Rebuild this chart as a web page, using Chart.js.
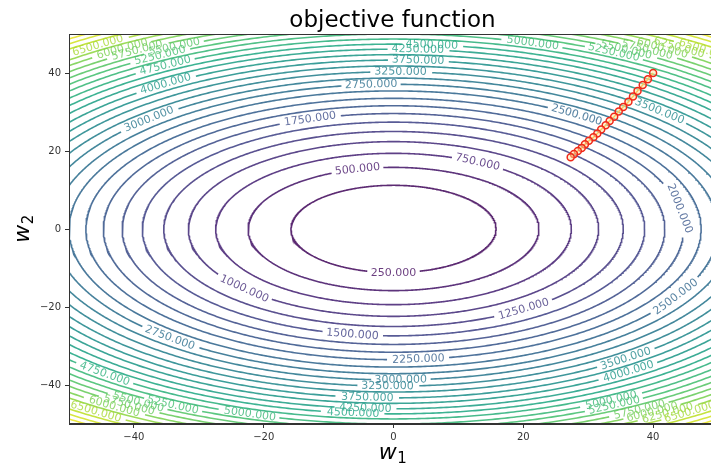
<!DOCTYPE html>
<html>
<head>
<meta charset="utf-8">
<script src="https://cdn.jsdelivr.net/npm/chart.js@4.4.1/dist/chart.umd.min.js"></script>
<style>
  html, body { margin: 0; padding: 0; overflow: hidden; background: #fff; }
</style>
</head>
<body>
<canvas id="chart" width="730" height="466"></canvas>
<script>
// contour levels and the half widths of each ellipse
const levels = [250, 500, 750, 1000, 1250, 1500, 1750, 2000, 2250, 2500, 2750, 3000, 3250, 3500, 3750,
  4000, 4250, 4500, 4750, 5000, 5250, 5500, 5750, 6000, 6250, 6500, 6750, 7000, 7250];
const semiW1 = [15.8, 22.4, 27.4, 31.6, 35.4, 38.7, 41.8, 44.7, 47.4, 50.0, 52.4, 54.8, 57.0, 59.2, 61.2,
  63.2, 65.2, 67.1, 68.9, 70.7, 72.5, 74.2, 75.8, 77.5, 79.1, 80.6, 82.2, 83.7, 85.1];
const semiW2 = [11.2, 15.8, 19.4, 22.4, 25.0, 27.4, 29.6, 31.6, 33.5, 35.4, 37.1, 38.7, 40.3, 41.8, 43.3,
  44.7, 46.1, 47.4, 48.7, 50.0, 51.2, 52.4, 53.6, 54.8, 55.9, 57.0, 58.1, 59.2, 60.2];

// gradient descent path
const pathW1 = [40.0, 39.2, 38.4, 37.6, 36.9, 36.2, 35.4, 34.7, 34.0, 33.3, 32.7, 32.0, 31.4, 30.8, 30.1, 29.5, 29.0, 28.4, 27.8, 27.3];
const pathW2 = [40.0, 38.4, 36.9, 35.4, 34.0, 32.6, 31.3, 30.1, 28.8, 27.7, 26.6, 25.5, 24.5, 23.5, 22.6, 21.7, 20.8, 20.0, 19.2, 18.4];

// inline contour labels (level, approx position)
const labelLevels = [250, 500, 750, 1000, 1250, 1500, 1750, 2000, 2250, 2500, 2500, 2750, 2750, 3000, 3000,
  3250, 3250, 3500, 3500, 3750, 3750, 4000, 4000, 4250, 4250, 4500, 4500, 4750, 4750, 5000, 5000, 5000,
  5250, 5250, 6500, 6000, 5750, 5250, 5500, 5500, 5750, 6000, 6250, 6500, 6500, 6000, 5750, 5500,
  5250, 5750, 6000, 6250, 6500];
const labelW1 = [0, -5.8, 13.4, -22.3, 19.5, -6.2, -13, 44.5, 3.8, 28.3, 42.9, -3.5, -34.3, -38.2, 1.1,
  1.1, -0.9, 40.6, 36, 3.8, -4, -35.5, 35.2, 3.8, -4.3, 6, -6.2, -35, -43.8, 21.8, -22, 33.4,
  34.5, -34.3, -45.4, -43, -41, -37.7, -34, 36.8, 40, 42.5, 45, 48, -45.4, -42.5, -41, -39.2,
  33.7, 37.5, 39.8, 42, 44.6];
const labelW2 = [-10.5, 16, 17.7, -14.9, -20, -26.5, 28.5, 5.3, -33.2, 29.3, -17.2, 37.6, -27.8, 28.5, -38.4,
  40.7, -40, 29.9, -33.5, 43.5, -43, 37.6, -35.6, 46.6, -45.6, 47.9, -46.9, 41.7, -36.6, 48.4, -47.2, -43.8,
  46, -45.6, 46.9, 47.5, 47.5, 46.6, 47, 47.1, 47, 47.5, 47.5, 46, -46.4, -45, -45.5, -44.3,
  -44.8, -45.9, -46.9, -47, -45.9];

const xTicks = [-40, -20, 0, 20, 40];
const yTicks = [-40, -20, 0, 20, 40];

const viridisStops = ['#440154', '#482475', '#414487', '#355f8d', '#2a788e', '#21918c',
  '#22a884', '#44bf70', '#7ad151', '#bddf26', '#fde725'];
const vmax = 7500;

function hexToRgb(h) {
  return [parseInt(h.slice(1, 3), 16), parseInt(h.slice(3, 5), 16), parseInt(h.slice(5, 7), 16)];
}
function viridis(v, alpha) {
  v = Math.max(0, Math.min(1, v));
  const p = v * 10;
  const i = Math.min(9, Math.floor(p));
  const f = p - i;
  const a = hexToRgb(viridisStops[i]), b = hexToRgb(viridisStops[i + 1]);
  const c = a.map((av, k) => Math.round(av + (b[k] - av) * f));
  return 'rgba(' + c.join(',') + ',' + (alpha === undefined ? 1 : alpha) + ')';
}

function ellipsePoints(A, B) {
  const pts = [];
  const n = 900;
  for (let k = 0; k <= n; k++) {
    const t = 2 * Math.PI * k / n;
    pts.push({x: A * Math.cos(t), y: B * Math.sin(t)});
  }
  return pts;
}

function fmtTick(v) {
  return String(v).replace('-', '\u2212');
}

// snap every label onto its ellipse
const labelItems = labelLevels.map((lv, i) => {
  const li = levels.indexOf(lv);
  const A = semiW1[li], B = semiW2[li];
  const t = Math.atan2(labelW2[i] / B, labelW1[i] / A);
  return {
    ds: li + 1, A: A, B: B, t: t,
    x: A * Math.cos(t), y: B * Math.sin(t),
    text: lv.toFixed(3), color: viridis(lv / vmax, 0.8)
  };
});

const contourSets = levels.map((lv, i) => ({
  data: ellipsePoints(semiW1[i], semiW2[i]),
  showLine: true,
  borderColor: viridis(lv / vmax, 0.88),
  borderWidth: 1.6,
  pointRadius: 0,
  spanGaps: false,
  clip: 0
}));

const pathSet = {
  data: pathW1.map((x, i) => ({x: x, y: pathW2[i]})),
  showLine: true,
  borderColor: '#f5a623',
  borderWidth: 1.5,
  pointRadius: 3.5,
  pointBorderColor: '#f0281a',
  pointBackgroundColor: 'rgba(255,230,160,0.5)',
  pointBorderWidth: 1.5,
  clip: 0
};

const labelFont = '11px "DejaVu Sans"';

const contourLabels = {
  id: 'contourLabels',
  afterDatasetDraw(chart, args) {
    if (args.index !== 1) return;
    const {ctx, chartArea, scales} = chart;
    const sx = scales.x, sy = scales.y;
    const kx = sx.getPixelForValue(1) - sx.getPixelForValue(0);
    const ky = sy.getPixelForValue(0) - sy.getPixelForValue(1);
    ctx.save();
    ctx.beginPath();
    ctx.rect(chartArea.left, chartArea.top, chartArea.right - chartArea.left, chartArea.bottom - chartArea.top);
    ctx.clip();
    ctx.font = labelFont;
    ctx.textAlign = 'center';
    ctx.textBaseline = 'middle';
    labelItems.forEach(lb => {
      const px = sx.getPixelForValue(lb.x), py = sy.getPixelForValue(lb.y);
      const dx = -lb.A * Math.sin(lb.t) * kx;
      const dy = -lb.B * Math.cos(lb.t) * ky;
      let ang = Math.atan2(dy, dx);
      if (ang > Math.PI / 2) ang -= Math.PI;
      if (ang < -Math.PI / 2) ang += Math.PI;
      ctx.save();
      ctx.translate(px, py);
      ctx.rotate(ang);
      ctx.fillStyle = lb.color;
      ctx.fillText(lb.text, 0, 0);
      ctx.restore();
    });
    ctx.restore();
  }
};

const decorations = {
  id: 'decorations',
  afterDraw(chart) {
    const {ctx, chartArea} = chart;
    ctx.save();
    ctx.strokeStyle = '#333';
    ctx.lineWidth = 1;
    ctx.strokeRect(chartArea.left + 0.5, chartArea.top + 0.5, chartArea.right - chartArea.left - 1, chartArea.bottom - chartArea.top - 1);

    const cx = (chartArea.left + chartArea.right) / 2;
    const cy = (chartArea.top + chartArea.bottom) / 2;
    ctx.fillStyle = '#000';
    ctx.font = '23px "DejaVu Sans"';
    ctx.textAlign = 'center';
    ctx.textBaseline = 'alphabetic';
    ctx.fillText('objective function', cx - 1, 27);

    // w1 / w2 axis titles, math style
    function mathLabel(sub) {
      ctx.font = 'italic 22px "DejaVu Sans"';
      const ww = ctx.measureText('w').width;
      ctx.font = '15px "DejaVu Sans"';
      const sw = ctx.measureText(sub).width;
      const start = -(ww + sw) / 2;
      ctx.textAlign = 'left';
      ctx.font = 'italic 22px "DejaVu Sans"';
      ctx.fillText('w', start, 0);
      ctx.font = '15px "DejaVu Sans"';
      ctx.fillText(sub, start + ww + 0.5, 4);
    }
    ctx.save();
    ctx.translate(cx - 1, 459);
    mathLabel('1');
    ctx.restore();

    ctx.save();
    ctx.translate(29, cy);
    ctx.rotate(-Math.PI / 2);
    mathLabel('2');
    ctx.restore();
    ctx.restore();
  }
};

const axisCommon = {
  type: 'linear',
  min: -50,
  max: 50,
  grid: {drawOnChartArea: false, drawTicks: true, tickLength: 4, color: '#333'},
  border: {color: '#333', width: 1},
  ticks: {
    font: {family: 'DejaVu Sans', size: 10},
    color: '#333',
    maxRotation: 0,
    callback: v => fmtTick(v)
  }
};

const config = {
  type: 'scatter',
  data: {datasets: [pathSet].concat(contourSets)},
  options: {
    responsive: false,
    animation: false,
    events: [],
    layout: {padding: {top: 34, right: 12, left: 0, bottom: 0}},
    plugins: {legend: {display: false}, tooltip: {enabled: false}},
    scales: {
      x: Object.assign({}, axisCommon, {
        ticks: Object.assign({}, axisCommon.ticks, {padding: 3}),
        afterBuildTicks: s => { s.ticks = xTicks.map(v => ({value: v})); },
        afterFit: s => { s.height = 42; }
      }),
      y: Object.assign({}, axisCommon, {
        ticks: Object.assign({}, axisCommon.ticks, {padding: 4}),
        afterBuildTicks: s => { s.ticks = yTicks.map(v => ({value: v})); },
        afterFit: s => { s.width = 69; }
      })
    }
  },
  plugins: [contourLabels, decorations]
};

const canvas = document.getElementById('chart');
const chart = new Chart(canvas, config);

// cut the contour line where its label sits, like inline clabel
const mctx = canvas.getContext('2d');
mctx.save();
mctx.font = labelFont;
labelItems.forEach(lb => {
  const ds = chart.data.datasets[lb.ds];
  const sx = chart.scales.x, sy = chart.scales.y;
  const cx = sx.getPixelForValue(lb.x), cy = sy.getPixelForValue(lb.y);
  const r = mctx.measureText(lb.text).width / 2 + 3;
  ds.data = ds.data.map(p => {
    if (p.y === null) return p;
    const dx = sx.getPixelForValue(p.x) - cx, dy = sy.getPixelForValue(p.y) - cy;
    return (dx * dx + dy * dy < r * r) ? {x: p.x, y: null} : p;
  });
});
mctx.restore();
chart.update('none');
</script>
</body>
</html>
